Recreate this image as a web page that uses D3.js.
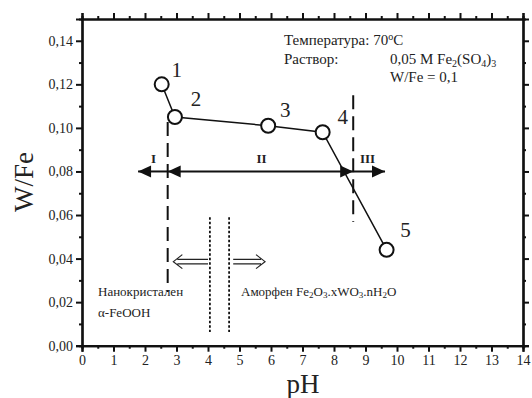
<!DOCTYPE html>
<html>
<head>
<meta charset="utf-8">
<script src="https://cdn.jsdelivr.net/npm/d3@7"></script>
<style>
  body { margin: 0; background: #fff; }
  svg text { font-family: "Liberation Serif", "Times New Roman", Times, serif; }
</style>
</head>
<body>
<svg id="chart" width="532" height="398"></svg>
<script>
// data
const pH = [2.53, 2.95, 5.91, 7.64, 9.67];
const wfe = [0.120, 0.105, 0.101, 0.098, 0.044];
const pointLabels = ["1", "2", "3", "4", "5"];
const xTicks = d3.range(0, 15, 1);
const yTicks = [0, 0.02, 0.04, 0.06, 0.08, 0.10, 0.12, 0.14];
const regionBounds = [2.72, 8.61];   // dashed borders I|II|III
const phaseBounds = [4.06, 4.67];    // dotted borders

const svg = d3.select('#chart');
const x = d3.scaleLinear().domain([0, 14]).range([82, 523]);
const y = d3.scaleLinear().domain([0, 0.15]).range([345.7, 19]);

const fmt = d => d3.format('.2f')(d).replace('.', ',');

// axes
const gB = svg.append('g').attr('transform', `translate(0,${y(0)})`)
  .call(d3.axisBottom(x).tickValues(xTicks).tickSize(6).tickPadding(3).tickFormat(d3.format('d')));
const gT = svg.append('g').attr('transform', `translate(0,${y(0.15)})`)
  .call(d3.axisTop(x).tickValues(xTicks).tickSize(6).tickFormat(''));
const gL = svg.append('g').attr('transform', `translate(${x(0)},0)`)
  .call(d3.axisLeft(y).tickValues(yTicks).tickSize(6).tickPadding(3).tickFormat(fmt));
const gR = svg.append('g').attr('transform', `translate(${x(14)},0)`)
  .call(d3.axisRight(y).tickValues(yTicks).tickSize(6).tickFormat(''));

// minor ticks
const gBm = svg.append('g').attr('transform', `translate(0,${y(0)})`)
  .call(d3.axisBottom(x).tickValues(d3.range(0.5, 14, 1)).tickSize(3).tickFormat(''));
const gTm = svg.append('g').attr('transform', `translate(0,${y(0.15)})`)
  .call(d3.axisTop(x).tickValues(d3.range(0.5, 14, 1)).tickSize(3).tickFormat(''));
const gLm = svg.append('g').attr('transform', `translate(${x(0)},0)`)
  .call(d3.axisLeft(y).tickValues(d3.range(0.01, 0.15, 0.02)).tickSize(3).tickFormat(''));
const gRm = svg.append('g').attr('transform', `translate(${x(14)},0)`)
  .call(d3.axisRight(y).tickValues(d3.range(0.01, 0.15, 0.02)).tickSize(3).tickFormat(''));

[gB, gT, gL, gR, gBm, gTm, gLm, gRm].forEach(g => {
  g.attr('font-family', null).attr('font-size', null);
  g.select('.domain').attr('stroke', '#111').attr('stroke-width', 2.2);
  g.selectAll('.tick line').attr('stroke', '#111').attr('stroke-width', 2);
  g.selectAll('.tick text').attr('fill', '#222').style('font-size', '14px');
});

// axis titles
svg.append('text').attr('x', 303).attr('y', 393).attr('text-anchor', 'middle')
  .style('font-size', '27px').attr('fill', '#222').text('pH');
svg.append('text').attr('transform', 'translate(33,182) rotate(-90)').attr('text-anchor', 'middle')
  .style('font-size', '27px').attr('fill', '#222').text('W/Fe');

// dashed region borders
const dashY = [[0.1027, 0.0246], [0.115, 0.0568]];
regionBounds.forEach((b, i) => {
  svg.append('line').attr('x1', x(b)).attr('x2', x(b))
    .attr('y1', y(dashY[i][0])).attr('y2', y(dashY[i][1]))
    .attr('stroke', '#111').attr('stroke-width', 2).attr('stroke-dasharray', '14,7');
});

// dotted phase borders
phaseBounds.forEach(b => {
  svg.append('line').attr('x1', x(b)).attr('x2', x(b))
    .attr('y1', y(0.059)).attr('y2', y(0.0063))
    .attr('stroke', '#111').attr('stroke-width', 1.8).attr('stroke-dasharray', '2.5,2');
});

// filled arrows at W/Fe = 0.08
const arrowY = y(0.08);
function head(tipX, dir) {
  const L = 13, H = 6;
  svg.append('path')
    .attr('d', `M${tipX},${arrowY}L${tipX - dir * L},${arrowY - H}L${tipX - dir * L},${arrowY + H}Z`)
    .attr('fill', '#111');
}
const arrI = 1.78, arrIII = 9.62;
[[regionBounds[0], arrI], [regionBounds[0], regionBounds[1]], [regionBounds[1], arrIII]].forEach(s => {
  svg.append('line').attr('x1', x(s[0])).attr('x2', x(s[1])).attr('y1', arrowY).attr('y2', arrowY)
    .attr('stroke', '#111').attr('stroke-width', 2);
});
head(x(arrI), -1);
head(x(regionBounds[0]), -1);
head(x(regionBounds[1]), 1);
head(x(arrIII), 1);

// roman labels
const romans = [["I", 153.5], ["II", 261.5], ["III", 367.5]];
romans.forEach(r => {
  svg.append('text').attr('x', r[1]).attr('y', 163).attr('text-anchor', 'middle')
    .style('font-size', '13px').style('font-weight', 'bold').attr('fill', '#222').text(r[0]);
});

// hollow arrows
function hollow(fromPh, toPh, yy) {
  const a = x(fromPh), b = x(toPh), yv = y(yy), dir = Math.sign(b - a);
  const g = 2.2;
  svg.append('path')
    .attr('d', `M${a},${yv - g}L${b - dir * 4},${yv - g}M${a},${yv + g}L${b - dir * 4},${yv + g}` +
      `M${b - dir * 9},${yv - 7}L${b},${yv}L${b - dir * 9},${yv + 7}`)
    .attr('fill', 'none').attr('stroke', '#222').attr('stroke-width', 1.2);
}
hollow(4.0, 2.9, 0.0386);
hollow(4.8, 5.81, 0.0386);

// data line and points
const pts = pH.map((v, i) => [x(v), y(wfe[i])]);
svg.append('path').attr('d', d3.line()(pts)).attr('fill', 'none')
  .attr('stroke', '#111').attr('stroke-width', 1.5);
svg.selectAll('.pt').data(pts).join('circle').attr('class', 'pt')
  .attr('cx', d => d[0]).attr('cy', d => d[1]).attr('r', 7)
  .attr('fill', '#fff').attr('stroke', '#111').attr('stroke-width', 2);
const lblOff = [[15, -7], [21, -11], [17, -9], [20, -8], [19, -13]];
svg.selectAll('.pl').data(pts).join('text').attr('class', 'pl')
  .attr('x', (d, i) => d[0] + lblOff[i][0]).attr('y', (d, i) => d[1] + lblOff[i][1])
  .attr('text-anchor', 'middle').style('font-size', '21px').attr('fill', '#222')
  .text((d, i) => pointLabels[i]);

// text annotations
const t1 = svg.append('text').style('font-size', '15px').attr('fill', '#222');
t1.append('tspan').attr('x', 284).attr('y', 45).text('Температура: 70');
t1.append('tspan').attr('dy', -5).style('font-size', '10px').text('o');
t1.append('tspan').attr('dy', 5).text('C');

svg.append('text').attr('x', 284).attr('y', 64).style('font-size', '15px').attr('fill', '#222').text('Раствор:');

const t2 = svg.append('text').attr('x', 390).attr('y', 64).style('font-size', '15px').attr('fill', '#222');
t2.append('tspan').text('0,05 M Fe');
t2.append('tspan').attr('dy', 3).style('font-size', '10px').text('2');
t2.append('tspan').attr('dy', -3).text('(SO');
t2.append('tspan').attr('dy', 3).style('font-size', '10px').text('4');
t2.append('tspan').attr('dy', -3).text(')');
t2.append('tspan').attr('dy', 3).style('font-size', '10px').text('3');

svg.append('text').attr('x', 390).attr('y', 82).style('font-size', '15px').attr('fill', '#222').text('W/Fe = 0,1');

svg.append('text').attr('x', 98).attr('y', 296).style('font-size', '13px').attr('fill', '#222').text('Нанокристален');
svg.append('text').attr('x', 98).attr('y', 317).style('font-size', '13px').attr('fill', '#222').text('α-FeOOH');

const t3 = svg.append('text').attr('x', 241).attr('y', 296).style('font-size', '13px').attr('fill', '#222');
t3.append('tspan').text('Аморфен Fe');
t3.append('tspan').attr('dy', 2).style('font-size', '9px').text('2');
t3.append('tspan').attr('dy', -2).text('O');
t3.append('tspan').attr('dy', 2).style('font-size', '9px').text('3');
t3.append('tspan').attr('dy', -2).text('.xWO');
t3.append('tspan').attr('dy', 2).style('font-size', '9px').text('3');
t3.append('tspan').attr('dy', -2).text('.nH');
t3.append('tspan').attr('dy', 2).style('font-size', '9px').text('2');
t3.append('tspan').attr('dy', -2).text('O');
</script>
</body>
</html>
